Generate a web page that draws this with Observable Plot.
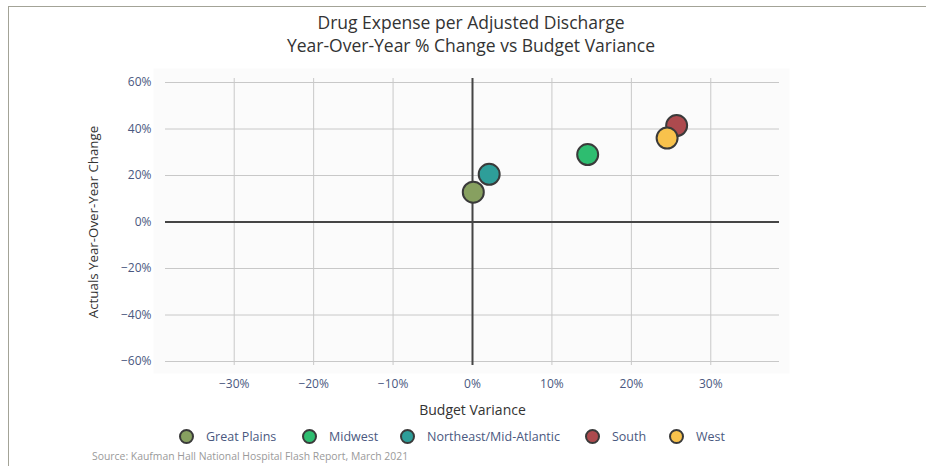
<!DOCTYPE html>
<html>
<head>
<meta charset="utf-8">
<script src="https://cdn.jsdelivr.net/npm/d3@7"></script>
<script src="https://cdn.jsdelivr.net/npm/@observablehq/plot@0.6"></script>
<style>
  html, body { margin: 0; padding: 0; background: #fff; overflow: hidden; }
  #wrap { position: relative; width: 926px; height: 466px; font-family: "Open Sans", sans-serif; }
  #border { position: absolute; left: 8px; top: 6px; width: 930px; height: 470px;
            border-top: 1px solid #a3a397; border-left: 1px solid #a3a397; }
  #title { position: absolute; left: 8px; width: 926px; top: 11px; text-align: center;
           font-size: 17.5px; line-height: 23px; color: #333; }
  #chart { position: absolute; left: 0; top: 60px; }
  #legend { position: absolute; left: 0; top: 427px; width: 926px; height: 18px; }
  .li { position: absolute; top: 0; height: 18px; display: flex; align-items: center;
        font-size: 12.5px; color: #4a5880; }
  .sw { width: 11px; height: 11px; border-radius: 50%; border: 2px solid #3a3a3a; margin-right: 12px; }
  #caption { position: absolute; left: 92px; top: 449px; font-size: 10.4px; color: #9a9a9a; }
</style>
</head>
<body>
<div id="wrap">
  <div id="border"></div>
  <div id="title">Drug Expense per Adjusted Discharge<br>Year-Over-Year % Change vs Budget Variance</div>
  <div id="chart"></div>
  <div id="legend"></div>
  <div id="caption">Source: Kaufman Hall National Hospital Flash Report, March 2021</div>
</div>
<script>
const regions = ["Great Plains", "Midwest", "Northeast/Mid-Atlantic", "South", "West"];
const budgetVariance = [0.1, 14.5, 2.1, 25.7, 24.5];
const yoyChange = [12.8, 29.0, 20.5, 41.5, 36.1];
const regionColors = ["#87a060", "#2ebd70", "#2e9e99", "#ad4a4e", "#f8c24c"];
const xTicks = [-30, -20, -10, 0, 10, 20, 30];
const yTicks = [-60, -40, -20, 0, 20, 40, 60];
const legendX = [179, 302, 400, 585, 669];

const data = regions.map((r, i) => ({region: r, x: budgetVariance[i], y: yoyChange[i], c: regionColors[i]}));
const fmt = d => (d < 0 ? "\u2212" : "") + Math.abs(d) + "%";

const chart = Plot.plot({
  width: 926,
  height: 370,
  marginLeft: 165,
  marginRight: 147,
  marginTop: 22,
  marginBottom: 69,
  style: {fontFamily: "'Open Sans', sans-serif", background: "transparent", overflow: "visible"},
  x: {domain: [-38.65, 38.65], axis: null},
  y: {domain: [-60, 60], axis: null},
  marks: [
    Plot.frame({fill: "#fbfbfb", stroke: null, insetLeft: -12, insetRight: -10, insetTop: -14, insetBottom: -12}),
    Plot.ruleY(yTicks.filter(d => d !== 0), {stroke: "#c8c8c8", strokeWidth: 1}),
    Plot.ruleX(xTicks.filter(d => d !== 0), {stroke: "#c8c8c8", strokeWidth: 1, insetTop: -4, insetBottom: -4}),
    Plot.ruleY([0], {stroke: "#454545", strokeWidth: 2}),
    Plot.ruleX([0], {stroke: "#454545", strokeWidth: 2, insetTop: -4, insetBottom: -4}),
    Plot.dot(data, {x: "x", y: "y", r: 10.5, fill: "c", stroke: "#3a3a3a", strokeWidth: 2}),
    Plot.text(yTicks, {y: d => d, text: fmt, frameAnchor: "left", dx: -14, textAnchor: "end",
                       fill: "#4a5880", fontSize: 12}),
    Plot.text(xTicks, {x: d => d, text: fmt, frameAnchor: "bottom", dy: 23, lineAnchor: "middle",
                       fill: "#4a5880", fontSize: 12}),
    Plot.text(["Budget Variance"], {frameAnchor: "bottom", dy: 49, lineAnchor: "middle",
                       fill: "#333", fontSize: 14}),
    Plot.text(["Actuals Year-Over-Year Change"], {frameAnchor: "left", dx: -72, rotate: -90,
                       textAnchor: "middle", lineAnchor: "middle", fill: "#333", fontSize: 13.3})
  ]
});
document.getElementById("chart").appendChild(chart);

const legend = document.getElementById("legend");
regions.forEach((r, i) => {
  const item = document.createElement("div");
  item.className = "li";
  item.style.left = legendX[i] + "px";
  const sw = document.createElement("span");
  sw.className = "sw";
  sw.style.background = regionColors[i];
  const t = document.createElement("span");
  t.textContent = r;
  item.appendChild(sw);
  item.appendChild(t);
  legend.appendChild(item);
});
</script>
</body>
</html>
